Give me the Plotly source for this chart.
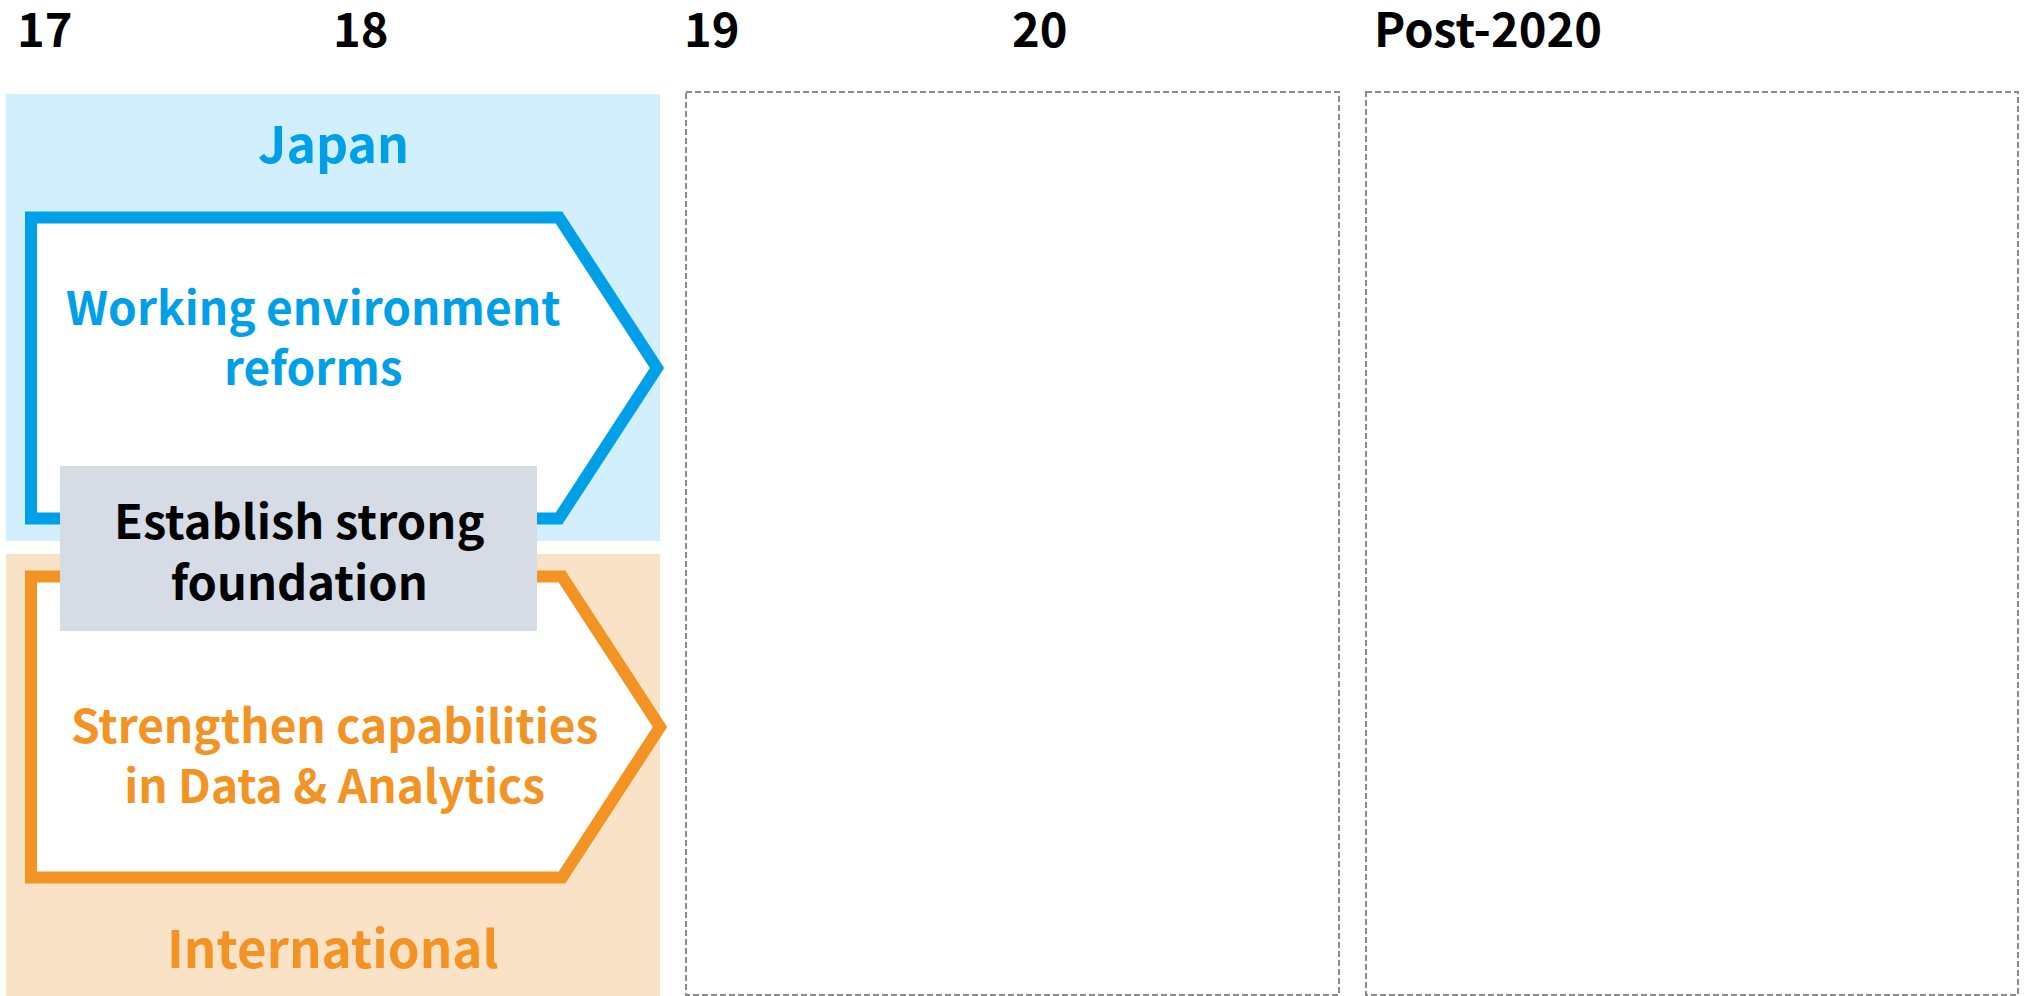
import plotly.graph_objects as go

# ---- content ----
periods = ["17", "18", "19", "20", "Post-2020"]
regions = ["Japan", "International"]
initiatives = ["Working environment<br>reforms", "Strengthen capabilities<br>in Data & Analytics"]
foundation = "Establish strong<br>foundation"

# ---- styling ----
W, H = 2024, 996
FONT = "Noto Sans CJK JP"
BLUE, LBLUE = "#00A0E9", "#D1EFFC"
ORANGE, LORANGE = "#F39323", "#FAE2C6"
GRAY_BOX = "#D5DCE6"
DASH = "#8C8C8C"

period_x = [15, 331, 682, 1010, 1372]
period_y = 26

# region panels (x0, y0, x1, y1)
panels = [(6, 94, 660, 541), (6, 554, 660, 996)]
region_label_y = [141, 946]
region_label_x = 333
region_sizes = [50, 51]
# arrows: left, top, bottom, shoulder, tip
arrows = [(31, 217.5, 518.5, 559, 657), (31, 576.5, 877.5, 562, 660)]
initiative_cx = [313, 334]
initiative_y = [334.5, 752.5]
found_box = (60, 466, 537, 631)
found_y = 549

dashed_boxes = [(686, 92, 1339, 995), (1366, 92, 2018, 995)]

strokes = [BLUE, ORANGE]
fills = [LBLUE, LORANGE]

shapes = []
for (x0, y0, x1, y1), fc in zip(panels, fills):
    shapes.append(dict(type="rect", xref="x", yref="y", x0=x0, y0=y0, x1=x1, y1=y1,
                       fillcolor=fc, line=dict(width=0), layer="above"))
for (l, t, b, s, tip), sc in zip(arrows, strokes):
    m = (t + b) / 2
    path = f"M {l},{t} L {s},{t} L {tip},{m} L {s},{b} L {l},{b} Z"
    shapes.append(dict(type="path", xref="x", yref="y", path=path,
                       fillcolor="white", line=dict(color=sc, width=12), layer="above"))
for (x0, y0, x1, y1) in dashed_boxes:
    shapes.append(dict(type="rect", xref="x", yref="y", x0=x0, y0=y0, x1=x1, y1=y1,
                       fillcolor="rgba(0,0,0,0)", line=dict(color=DASH, width=2, dash="6px,3px"),
                       layer="above"))
x0, y0, x1, y1 = found_box
shapes.append(dict(type="rect", xref="x", yref="y", x0=x0, y0=y0, x1=x1, y1=y1,
                   fillcolor=GRAY_BOX, line=dict(width=0), layer="above"))

ann = []
for label, x in zip(periods, period_x):
    ann.append(dict(x=x, y=period_y, text=f"<b>{label}</b>", xanchor="left", yanchor="middle",
                    font=dict(family=FONT, size=47, color="black")))
for label, y, c, sz in zip(regions, region_label_y, strokes, region_sizes):
    ann.append(dict(x=region_label_x, y=y, text=f"<b>{label}</b>", xanchor="center", yanchor="middle",
                    font=dict(family=FONT, size=sz, color=c)))
for label, cx, y, c in zip(initiatives, initiative_cx, initiative_y, strokes):
    ann.append(dict(x=cx, y=y, text=f"<b>{label}</b>", xanchor="center", align="center",
                    yanchor="middle", font=dict(family=FONT, size=46, color=c)))
ann.append(dict(x=(found_box[0] + found_box[2]) / 2, y=found_y, text=f"<b>{foundation}</b>",
                xanchor="center", align="center", yanchor="middle",
                font=dict(family=FONT, size=47, color="black")))
for a in ann:
    a.update(xref="x", yref="y", showarrow=False)

fig = go.Figure()
fig.update_layout(
    width=W, height=H, margin=dict(l=0, r=0, t=0, b=0),
    paper_bgcolor="white", plot_bgcolor="white",
    xaxis=dict(range=[0, W], visible=False, fixedrange=True),
    yaxis=dict(range=[H, 0], visible=False, fixedrange=True),
    shapes=shapes, annotations=ann, showlegend=False,
)
fig.write_html("out.html", config={"displayModeBar": False})
